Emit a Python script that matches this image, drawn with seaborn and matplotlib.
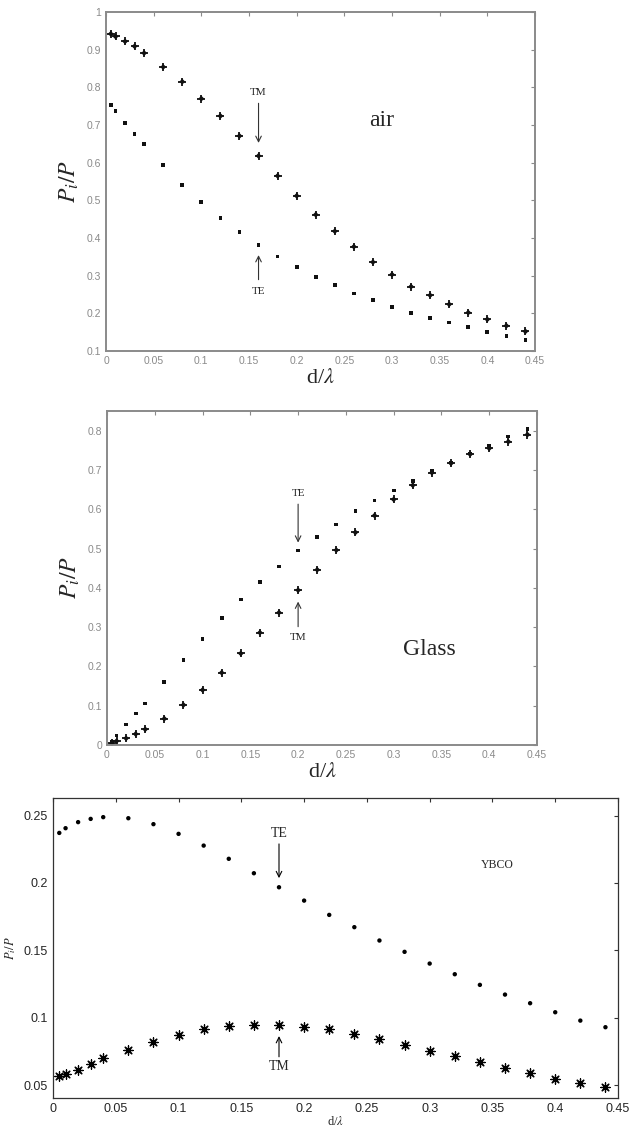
import matplotlib
matplotlib.use('Agg')
import matplotlib.pyplot as plt
import seaborn as sns
import pandas as pd

# ---------------- data ----------------
d = [0.005, 0.01, 0.02, 0.03, 0.04, 0.06, 0.08, 0.10, 0.12, 0.14, 0.16, 0.18,
     0.20, 0.22, 0.24, 0.26, 0.28, 0.30, 0.32, 0.34, 0.36, 0.38, 0.40, 0.42, 0.44]

air_tm = [0.942, 0.935, 0.922, 0.909, 0.891, 0.854, 0.815, 0.770, 0.724, 0.671,
          0.618, 0.565, 0.512, 0.462, 0.418, 0.377, 0.336, 0.303, 0.271, 0.248,
          0.224, 0.202, 0.184, 0.167, 0.152]
air_te = [0.753, 0.737, 0.706, 0.676, 0.649, 0.593, 0.540, 0.496, 0.453, 0.416,
          0.382, 0.351, 0.323, 0.296, 0.275, 0.253, 0.235, 0.217, 0.201, 0.187,
          0.176, 0.164, 0.151, 0.140, 0.129]

glass_te = [0.008, 0.024, 0.052, 0.080, 0.106, 0.161, 0.217, 0.270, 0.323, 0.370,
            0.414, 0.454, 0.495, 0.529, 0.561, 0.595, 0.622, 0.648, 0.672, 0.697,
            0.719, 0.742, 0.762, 0.785, 0.805]
glass_tm = [0.004, 0.010, 0.017, 0.028, 0.040, 0.067, 0.102, 0.140, 0.184, 0.233,
            0.286, 0.337, 0.394, 0.446, 0.496, 0.541, 0.584, 0.625, 0.661, 0.693,
            0.717, 0.740, 0.755, 0.772, 0.790]

ybco_te = [0.2371, 0.2406, 0.2451, 0.2475, 0.2488, 0.2480, 0.2436, 0.2364, 0.2277,
           0.2179, 0.2072, 0.1968, 0.1869, 0.1763, 0.1672, 0.1573, 0.1489, 0.1402,
           0.1323, 0.1244, 0.1172, 0.1108, 0.1041, 0.0979, 0.0930]
ybco_tm = [0.0566, 0.0584, 0.0616, 0.0658, 0.0698, 0.0759, 0.0821, 0.0873, 0.0917,
           0.0937, 0.0950, 0.0950, 0.0932, 0.0917, 0.0883, 0.0843, 0.0799, 0.0757,
           0.0720, 0.0670, 0.0628, 0.0589, 0.0549, 0.0517, 0.0485]

xticks = [0, 0.05, 0.1, 0.15, 0.2, 0.25, 0.3, 0.35, 0.4, 0.45]
xtick_labels = ['0', '0.05', '0.1', '0.15', '0.2', '0.25', '0.3', '0.35', '0.4', '0.45']
air_yticks = [0.1, 0.2, 0.3, 0.4, 0.5, 0.6, 0.7, 0.8, 0.9, 1.0]
air_ylabels = ['0.1', '0.2', '0.3', '0.4', '0.5', '0.6', '0.7', '0.8', '0.9', '1']
glass_yticks = [0, 0.1, 0.2, 0.3, 0.4, 0.5, 0.6, 0.7, 0.8]
glass_ylabels = ['0', '0.1', '0.2', '0.3', '0.4', '0.5', '0.6', '0.7', '0.8']
ybco_yticks = [0.05, 0.1, 0.15, 0.2, 0.25]
ybco_ylabels = ['0.05', '0.1', '0.15', '0.2', '0.25']

# ---------------- style ----------------
sns.set_style('white')
plt.rcParams['font.family'] = ['Liberation Serif', 'DejaVu Serif']
plt.rcParams['mathtext.fontset'] = 'stix'

W, H = 631, 1128
fig = plt.figure(figsize=(W / 100, H / 100), dpi=100)
ax1 = fig.add_axes([106 / W, 1 - 351 / H, 429 / W, 339 / H])
ax2 = fig.add_axes([107 / W, 1 - 745 / H, 430 / W, 334 / H])
ax3 = fig.add_axes([53 / W, 1 - 1098 / H, 565 / W, 300 / H])


def matlab_axes(ax, spine_color, lw):
    for s in ax.spines.values():
        s.set_visible(True)
        s.set_color(spine_color)
        s.set_linewidth(lw)
    ax.tick_params(direction='in', top=True, right=True, length=3,
                   width=0.8, color=spine_color)


def plot_upper(ax, te, tm):
    df = pd.DataFrame({'d': d, 'TE': te, 'TM': tm})
    sns.scatterplot(data=df, x='d', y='TE', ax=ax, marker='s', s=7,
                    color='#111111', edgecolor='none', legend=False)
    sns.scatterplot(data=df, x='d', y='TM', ax=ax, marker='+', s=34,
                    color='#111111', linewidth=1.3, legend=False)
    sns.scatterplot(data=df, x='d', y='TM', ax=ax, marker='D', s=9,
                    color='#111111', edgecolor='none', legend=False)


def style_upper_ticks(ax):
    for lab in ax.get_xticklabels() + ax.get_yticklabels():
        lab.set_color(gray)
        lab.set_fontsize(7.5)
        lab.set_family(['Liberation Sans', 'DejaVu Sans'])


gray = '#8a8a8a'
arrow_kw = dict(arrowstyle='->', lw=0.8, color='#333333')

# ---- panel 1: air ----
plot_upper(ax1, air_te, air_tm)
ax1.set_xlim(0, 0.45)
ax1.set_ylim(0.1, 1.0)
ax1.set_xticks(xticks, xtick_labels)
ax1.set_yticks(air_yticks, air_ylabels)
matlab_axes(ax1, gray, 1.4)
style_upper_ticks(ax1)
ax1.set_xlabel(r'd/$\lambda$', fontsize=16, labelpad=2)
ax1.set_ylabel(r'$P_i/P$', fontsize=17, labelpad=4)
ax1.text(0.16, 0.785, 'TM', fontsize=8, ha='center', va='center')
ax1.annotate('', xy=(0.16, 0.645), xytext=(0.16, 0.765), arrowprops=arrow_kw)
ax1.text(0.16, 0.257, 'TE', fontsize=8, ha='center', va='center')
ax1.annotate('', xy=(0.16, 0.362), xytext=(0.16, 0.282), arrowprops=arrow_kw)
ax1.text(0.289, 0.713, 'air', fontsize=17, ha='center', va='center')

# ---- panel 2: glass ----
plot_upper(ax2, glass_te, glass_tm)
ax2.set_xlim(0, 0.45)
ax2.set_ylim(0, 0.85)
ax2.set_xticks(xticks, xtick_labels)
ax2.set_yticks(glass_yticks, glass_ylabels)
matlab_axes(ax2, gray, 1.4)
style_upper_ticks(ax2)
ax2.set_xlabel(r'd/$\lambda$', fontsize=16, labelpad=2)
ax2.set_ylabel(r'$P_i/P$', fontsize=17, labelpad=4)
ax2.text(0.2, 0.640, 'TE', fontsize=8, ha='center', va='center')
ax2.annotate('', xy=(0.2, 0.508), xytext=(0.2, 0.620), arrowprops=arrow_kw)
ax2.text(0.2, 0.274, 'TM', fontsize=8, ha='center', va='center')
ax2.annotate('', xy=(0.2, 0.372), xytext=(0.2, 0.294), arrowprops=arrow_kw)
ax2.text(0.337, 0.243, 'Glass', fontsize=17, ha='center', va='center')

# ---- panel 3: YBCO ----
df3 = pd.DataFrame({'d': d, 'TE': ybco_te, 'TM': ybco_tm})
sns.scatterplot(data=df3, x='d', y='TE', ax=ax3, marker='o', s=10,
                color='black', edgecolor='none', legend=False)
sns.scatterplot(data=df3, x='d', y='TM', ax=ax3, marker=(8, 2, 0), s=45,
                color='black', linewidth=0.9, legend=False)
ax3.set_xlim(0, 0.45)
ax3.set_ylim(0.0405, 0.263)
ax3.set_xticks(xticks, xtick_labels)
ax3.set_yticks(ybco_yticks, ybco_ylabels)
matlab_axes(ax3, '#333333', 0.9)
for lab in ax3.get_xticklabels() + ax3.get_yticklabels():
    lab.set_fontsize(9)
    lab.set_family(['Liberation Sans', 'DejaVu Sans'])
ax3.set_xlabel(r'd/$\lambda$', fontsize=9, labelpad=0)
ax3.set_ylabel(r'$P_i/P$', fontsize=9, labelpad=4)
ax3.text(0.18, 0.2366, 'TE', fontsize=10, ha='center', va='center')
ax3.annotate('', xy=(0.18, 0.2015), xytext=(0.18, 0.231),
             arrowprops=dict(arrowstyle='->', lw=0.8, color='black'))
ax3.text(0.18, 0.0635, 'TM', fontsize=10, ha='center', va='center')
ax3.annotate('', xy=(0.18, 0.0885), xytext=(0.18, 0.069),
             arrowprops=dict(arrowstyle='->', lw=0.8, color='black'))
ax3.text(0.354, 0.2136, 'YBCO', fontsize=8.5, ha='center', va='center')

fig.savefig('out.png', dpi=100)
